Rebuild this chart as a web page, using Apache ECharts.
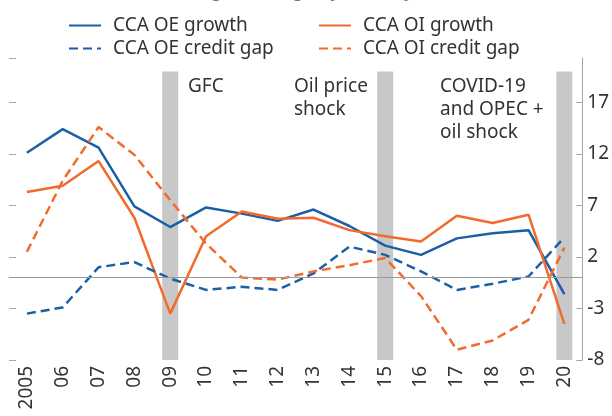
<!DOCTYPE html>
<html>
<head>
<meta charset="utf-8">
<script src="https://cdn.jsdelivr.net/npm/echarts@6/dist/echarts.min.js"></script>
<style>html,body{margin:0;padding:0;background:#fff}#c{width:612px;height:416px}</style>
</head>
<body>
<div id="c"></div>
<script>
var years = ['2005','06','07','08','09','10','11','12','13','14','15','16','17','18','19','20'];
var oeGrowth = [12.1, 14.4, 12.6, 6.9, 4.9, 6.8, 6.2, 5.5, 6.6, 5.0, 3.1, 2.2, 3.8, 4.3, 4.6, -1.6];
var oiGrowth = [8.3, 8.9, 11.3, 5.8, -3.5, 4.0, 6.4, 5.7, 5.8, 4.6, 4.0, 3.5, 6.0, 5.3, 6.1, -4.5];
var oeGap = [-3.5, -2.9, 1.0, 1.5, -0.1, -1.2, -0.9, -1.2, 0.4, 3.0, 2.2, 0.6, -1.2, -0.6, 0.1, 3.9];
var oiGap = [2.5, 9.4, 14.6, 11.9, 7.5, 3.3, 0.0, -0.2, 0.6, 1.2, 1.9, -1.8, -7.0, -6.1, -4.1, 2.9];
var shockSpan = [null, null, null, null, 28, null, null, null, null, null, 28, null, null, null, null, 28];
var axisMin = -8, axisMax = 21.3, axisStep = 5;

var BLUE = '#1b5fa6', ORANGE = '#f26a2c';
var FONT = 'Noto Sans';
var chart = echarts.init(document.getElementById('c'), null, {renderer: 'canvas'});

function lineSeries(name, data, color, dashed) {
  return {
    name: name, type: 'line', data: data, yAxisIndex: 1,
    symbol: 'none', showSymbol: false, smooth: false, z: 3,
    lineStyle: {color: color, width: 2.5, type: dashed ? [9, 5] : 'solid'},
    itemStyle: {color: color}
  };
}

var s1 = lineSeries('CCA OE growth', oeGrowth, BLUE, false);
s1.markLine = {silent: true, symbol: 'none', label: {show: false},
  lineStyle: {color: '#9a9a9a', width: 1, type: 'solid'}, data: [{yAxis: 0}]};

function legendBlock(names, left) {
  return {
    data: names, orient: 'vertical', left: left, top: 16, padding: 0,
    itemWidth: 32, itemHeight: 14, itemGap: 4,
    itemStyle: {opacity: 0},
    textStyle: {fontSize: 19, color: '#333', fontFamily: FONT, padding: [0, 0, 0, 7]}
  };
}

var option = {
  animation: false,
  textStyle: {fontFamily: FONT},
  grid: {left: 9, right: 24, top: 58, bottom: 56},
  legend: [
    legendBlock(['CCA OE growth', 'CCA OE credit gap'], 68),
    legendBlock(['CCA OI growth', 'CCA OI credit gap'], 318)
  ],
  xAxis: {
    type: 'category', data: years, boundaryGap: true,
    axisLine: {lineStyle: {color: '#a6a6a6'}},
    axisTick: {inside: true, length: 7, lineStyle: {color: '#a6a6a6'}},
    axisLabel: {rotate: 90, fontSize: 19, color: '#333', margin: 6, fontFamily: FONT}
  },
  yAxis: [{
    type: 'value', position: 'left', min: axisMin, max: axisMax, interval: axisStep,
    axisLine: {show: false}, splitLine: {show: false},
    axisTick: {show: true, inside: true, length: 7, lineStyle: {color: '#a6a6a6'}},
    axisLabel: {show: false}
  }, {
    type: 'value', position: 'right', min: axisMin, max: axisMax, interval: axisStep,
    axisLine: {show: true, lineStyle: {color: '#a6a6a6'}}, splitLine: {show: false},
    axisTick: {show: true, inside: true, length: 6, lineStyle: {color: '#a6a6a6'}},
    axisLabel: {fontSize: 19, color: '#333', margin: 5, fontFamily: FONT,
      showMaxLabel: false}
  }, {
    type: 'value', min: 0, max: axisMax - axisMin, show: false
  }],
  series: [
    {name: 'shock', type: 'bar', data: shockSpan, yAxisIndex: 2, barWidth: 16,
     itemStyle: {color: '#c8c8c8'}, z: 1, silent: true},
    s1,
    lineSeries('CCA OI growth', oiGrowth, ORANGE, false),
    lineSeries('CCA OE credit gap', oeGap, BLUE, true),
    lineSeries('CCA OI credit gap', oiGap, ORANGE, true)
  ],
  graphic: [
    {type: 'text', left: 38, top: -19, style: {text: '(Annual credit change, average by country, real terms)', fontSize: 19, fill: '#777', fontFamily: FONT}},
    {type: 'text', left: 188, top: 75, style: {text: 'GFC', fontSize: 19, fill: '#333', fontFamily: FONT, lineHeight: 23}},
    {type: 'text', left: 294, top: 75, style: {text: 'Oil price\nshock', fontSize: 19, fill: '#333', fontFamily: FONT, lineHeight: 23}},
    {type: 'text', left: 440, top: 75, style: {text: 'COVID-19\nand OPEC +\noil shock', fontSize: 19, fill: '#333', fontFamily: FONT, lineHeight: 23}}
  ]
};
chart.setOption(option);
</script>
</body>
</html>
